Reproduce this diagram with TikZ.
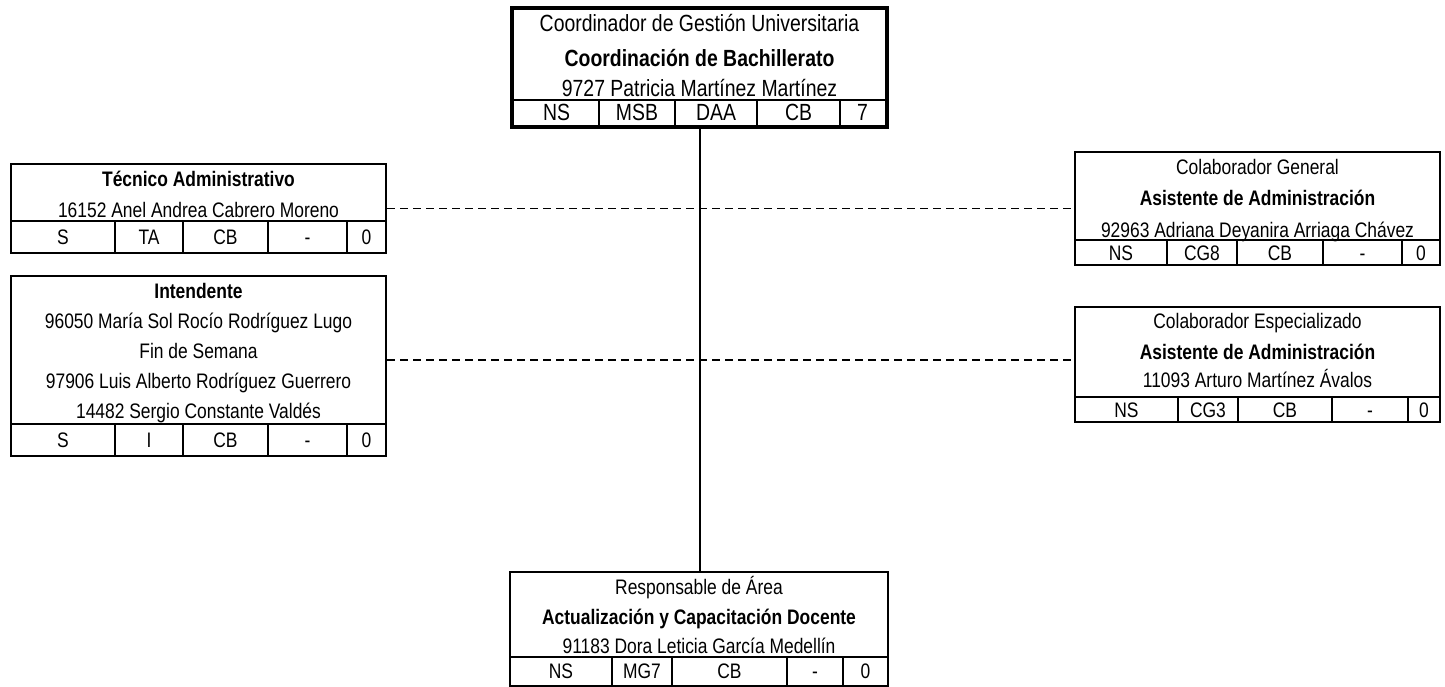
\documentclass[tikz,border=0pt]{standalone}
\usepackage{fontspec}
\setmainfont{Liberation Sans}[FakeStretch=0.83]
\tikzset{
  box/.style={draw, line width=2.2pt, inner sep=0pt},
  headbox/.style={draw, line width=4.5pt, inner sep=0pt},
  grid/.style={line width=1.8pt},
  txt/.style={anchor=base, inner sep=0pt, font=\fontsize{21}{25}\selectfont},
  btxt/.style={anchor=base, inner sep=0pt, font=\fontsize{21}{25}\selectfont\bfseries},
  htxt/.style={anchor=base, inner sep=0pt, font=\fontsize{23.4}{28}\selectfont},
  hbtxt/.style={anchor=base, inner sep=0pt, font=\fontsize{23.4}{28}\selectfont\bfseries},
  link/.style={line width=2pt},
  dashlink/.style={line width=1.5pt, dash pattern=on 8pt off 5pt}
}
\begin{document}
\begin{tikzpicture}[x=1pt,y=-1pt]
\useasboundingbox (0,0) rectangle (1445,687);
\node [headbox, minimum width=375pt, minimum height=119pt] (coord) at (699.5,67.5) {};
\node [box, minimum width=375pt, minimum height=89pt] (tecnico) at (198.5,208.5) {};
\node [box, minimum width=375pt, minimum height=180pt] (intendente) at (198.5,366) {};
\node [box, minimum width=365pt, minimum height=113pt] (general) at (1257.5,208.5) {};
\node [box, minimum width=365pt, minimum height=115pt] (especial) at (1257.5,364.5) {};
\node [box, minimum width=378pt, minimum height=114pt] (resp) at (699,629) {};
\coordinate (d2) at (700,360);
\draw [link] (coord.south) -- (coord.south |- resp.north);
\draw [dashlink] (tecnico.east) -- (general.west);
\draw [dashlink] (intendente.east |- d2) -- (especial.west |- d2);
\draw [grid] (512,100) -- (887,100);
\draw [grid] (599,100) -- (599,127);
\draw [grid] (675,100) -- (675,127);
\draw [grid] (757,100) -- (757,127);
\draw [grid] (840,100) -- (840,127);
\node [htxt] (coord1) at (699.5,32) {Coordinador de Gestión Universitaria};
\node [hbtxt] (coord2) at (699.5,67) {Coordinación de Bachillerato};
\node [htxt] (coord3) at (699.5,97) {9727 Patricia Martínez Martínez};
\node [htxt] (coordc1) at (556.5,121) {NS};
\node [htxt] (coordc2) at (637,121) {MSB};
\node [htxt] (coordc3) at (716,121) {DAA};
\node [htxt] (coordc4) at (798.5,121) {CB};
\node [htxt] (coordc5) at (862.5,121) {7};
\draw [grid] (11,221) -- (386,221);
\draw [grid] (115,221) -- (115,253);
\draw [grid] (183,221) -- (183,253);
\draw [grid] (268,221) -- (268,253);
\draw [grid] (347,221) -- (347,253);
\node [btxt] (tec1) at (198.5,187) {Técnico Administrativo};
\node [txt] (tec2) at (198.5,218) {16152 Anel Andrea Cabrero Moreno};
\node [txt] (tecc1) at (63,244) {S};
\node [txt] (tecc2) at (149,244) {TA};
\node [txt] (tecc3) at (225.5,244) {CB};
\node [txt] (tecc4) at (307.5,244) {-};
\node [txt] (tecc5) at (366.5,244) {0};
\draw [grid] (11,424) -- (386,424);
\draw [grid] (115,424) -- (115,456);
\draw [grid] (183,424) -- (183,456);
\draw [grid] (268,424) -- (268,456);
\draw [grid] (347,424) -- (347,456);
\node [btxt] (int1) at (198.5,298) {Intendente};
\node [txt] (int2) at (198.5,328) {96050 María Sol Rocío Rodríguez Lugo};
\node [txt] (int3) at (198.5,358) {Fin de Semana};
\node [txt] (int4) at (198.5,388) {97906 Luis Alberto Rodríguez Guerrero};
\node [txt] (int5) at (198.5,418) {14482 Sergio Constante Valdés};
\node [txt] (intc1) at (63,447.5) {S};
\node [txt] (intc2) at (149,447.5) {I};
\node [txt] (intc3) at (225.5,447.5) {CB};
\node [txt] (intc4) at (307.5,447.5) {-};
\node [txt] (intc5) at (366.5,447.5) {0};
\draw [grid] (1075,240) -- (1440,240);
\draw [grid] (1167,240) -- (1167,265);
\draw [grid] (1237,240) -- (1237,265);
\draw [grid] (1323,240) -- (1323,265);
\draw [grid] (1402,240) -- (1402,265);
\node [txt] (gen1) at (1257.5,174.5) {Colaborador General};
\node [btxt] (gen2) at (1257.5,205) {Asistente de Administración};
\node [txt] (gen3) at (1257.5,237) {92963 Adriana Deyanira Arriaga Chávez};
\node [txt] (genc1) at (1121,260) {NS};
\node [txt] (genc2) at (1202,260) {CG8};
\node [txt] (genc3) at (1280,260) {CB};
\node [txt] (genc4) at (1362.5,260) {-};
\node [txt] (genc5) at (1421,260) {0};
\draw [grid] (1075,397) -- (1440,397);
\draw [grid] (1178,397) -- (1178,422);
\draw [grid] (1238,397) -- (1238,422);
\draw [grid] (1332,397) -- (1332,422);
\draw [grid] (1408,397) -- (1408,422);
\node [txt] (esp1) at (1257.5,328) {Colaborador Especializado};
\node [btxt] (esp2) at (1257.5,359.5) {Asistente de Administración};
\node [txt] (esp3) at (1257.5,387.5) {11093 Arturo Martínez Ávalos};
\node [txt] (espc1) at (1126.5,417) {NS};
\node [txt] (espc2) at (1208,417) {CG3};
\node [txt] (espc3) at (1285,417) {CB};
\node [txt] (espc4) at (1370,417) {-};
\node [txt] (espc5) at (1424,417) {0};
\draw [grid] (510,657) -- (888,657);
\draw [grid] (612,657) -- (612,686);
\draw [grid] (672,657) -- (672,686);
\draw [grid] (787,657) -- (787,686);
\draw [grid] (843,657) -- (843,686);
\node [txt] (resp1) at (699,594.5) {Responsable de Área};
\node [btxt] (resp2) at (699,624.5) {Actualización y Capacitación Docente};
\node [txt] (resp3) at (699,653.5) {91183 Dora Leticia García Medellín};
\node [txt] (respc1) at (561,678.5) {NS};
\node [txt] (respc2) at (642,678.5) {MG7};
\node [txt] (respc3) at (729.5,678.5) {CB};
\node [txt] (respc4) at (815,678.5) {-};
\node [txt] (respc5) at (865.5,678.5) {0};
\end{tikzpicture}
\end{document}
